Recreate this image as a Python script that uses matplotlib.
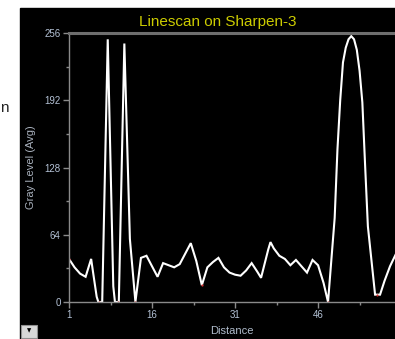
import matplotlib
matplotlib.use("Agg")
import matplotlib.pyplot as plt
from matplotlib.patches import Rectangle

plt.rcParams['font.family'] = ['Liberation Sans', 'DejaVu Sans']

# linescan profile (distance, gray level)
dist = [1, 2, 3, 4, 5, 5.3, 6, 6.3, 7, 8, 9, 9.3, 10, 11, 12, 13,
        14, 15, 16, 17, 18, 19, 20, 21, 22, 23, 24, 25, 26, 27, 28,
        29, 30, 31, 32, 33, 34, 35, 35.7, 37, 37.4, 38, 39, 40, 41,
        42, 43, 44, 45, 46, 47, 47.8, 49, 49.5, 50, 50.5, 51, 51.5,
        52, 52.5, 53, 53.5, 54, 54.5, 55, 56.3, 57.2, 58, 59, 60]
gray = [41, 33, 27, 24, 41, 30, 5, 0, 0, 250, 15, 0, 0, 246, 60, 0,
        42, 44, 34, 24, 37, 35, 33, 36, 46, 56, 39, 16, 33, 38, 42,
        33, 28, 26, 25, 30, 37, 29, 23, 50, 57, 51, 44, 41, 35,
        40, 34, 28, 40, 35, 18, 0, 80, 145, 192, 228, 242, 250,
        253, 250, 240, 220, 190, 130, 72, 7, 7, 20, 34, 45]

# small red spots the original shows at some minima
red_x = [1, 6.5, 9.8, 13, 25, 47.8, 56.6]
red_y = [41, 0, 0, 0, 16, 0, 7]

xticks = [1, 16, 31, 46]
xminor = [8.5, 23.5, 38.5, 53.5]
yticks = [0, 64, 128, 192, 256]
yminor = [32, 96, 160, 224]

W, H = 395, 339
fig = plt.figure(figsize=(W / 100, H / 100), dpi=100, facecolor='white')

# black panel
fig.add_artist(Rectangle((20 / W, 0), (W - 20) / W, (H - 8) / H,
                         transform=fig.transFigure, color='black', zorder=0))

# dropdown button bottom-left
fig.add_artist(Rectangle((21 / W, 1 / H), 16 / W, 13 / H, transform=fig.transFigure,
                         facecolor='#d8d8d8', edgecolor='#909090', lw=0.8, zorder=1))
fig.text(29 / W, 8 / H, '\u25BC', fontsize=4, color='black', ha='center', va='center',
         family=['DejaVu Sans'])

# cropped character on the left
fig.text(9 / W, 1 - 112 / H, 'n', fontsize=11, color='#222222', ha='right', va='baseline')

ax = fig.add_axes([69 / W, 1 - 302 / H, (W - 69) / W, 269 / H])
ax.set_facecolor('black')

ax.plot(dist, gray, color='white', lw=1.5, solid_joinstyle='miter')
ax.plot(red_x, red_y, 'o', color='#d03030', ms=1.6, mew=0)

ax.set_xlim(1, 59.9)
ax.set_ylim(0, 256)
ax.set_xticks(xticks)
ax.set_xticks(xminor, minor=True)
ax.set_yticks(yticks)
ax.set_yticks(yminor, minor=True)

for s in ['left', 'bottom']:
    ax.spines[s].set_color('#8a8a8a')
    ax.spines[s].set_linewidth(1.0)
ax.spines['top'].set_color('#6e6e6e')
ax.spines['top'].set_linewidth(2.2)
ax.spines['right'].set_visible(False)

ax.tick_params(which='major', colors='#8a8a8a', labelcolor='#b4c2d6', labelsize=7,
               length=4, width=1, pad=2)
ax.tick_params(which='minor', colors='#8a8a8a', length=2, width=1)

ax.set_title('Linescan on Sharpen-3', color='#cccc00', fontsize=11, x=0.455, pad=5)
ax.set_xlabel('Distance', color='#b0bccc', fontsize=8, labelpad=4)
ax.set_ylabel('Gray Level (Avg)', color='#a8b0bc', fontsize=8, labelpad=6)

fig.savefig('out.png', dpi=100, facecolor='white')
